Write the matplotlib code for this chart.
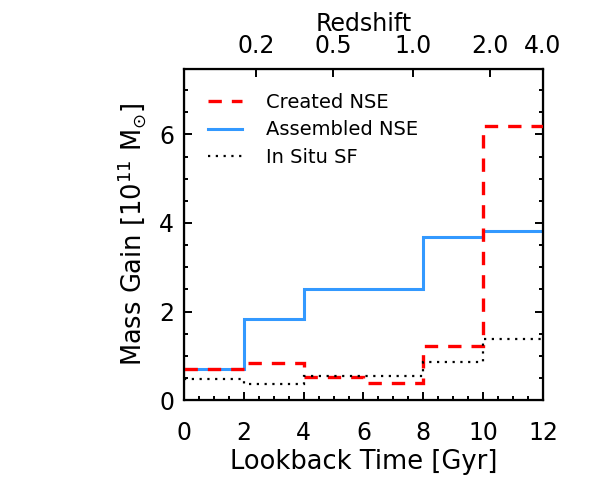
import matplotlib
matplotlib.use('Agg')
import matplotlib.pyplot as plt
from matplotlib.ticker import MultipleLocator

# lookback-time bin edges [Gyr]
edges = [0, 2, 4, 6, 8, 10, 12]

# mass gain per bin [1e11 Msun]
created_nse = [0.69, 0.84, 0.52, 0.39, 1.22, 6.19]
assembled_nse = [0.69, 1.82, 2.50, 2.51, 3.69, 3.82]
insitu_sf = [0.48, 0.37, 0.54, 0.54, 0.85, 1.39]

# redshift labels on the top axis and their lookback times
z_labels = ['0.2', '0.5', '1.0', '2.0', '4.0']
z_lookback = [2.41, 4.98, 7.66, 10.23, 12.0]

plt.rcParams['font.family'] = 'DejaVu Sans'

fig = plt.figure(figsize=(5.98, 4.91), dpi=100)
ax = fig.add_axes([0.3077, 0.1853, 0.6003, 0.6742])

ax.stairs(created_nse, edges, baseline=None, color='red', lw=2.4, ls=(0, (4, 3)),
          label='Created NSE', zorder=3)
ax.stairs(assembled_nse, edges, baseline=None, color='#3399ff', lw=2.2,
          label='Assembled NSE', zorder=2)
ax.stairs(insitu_sf, edges, baseline=None, color='black', lw=1.6, ls=(0, (1, 2.5)),
          label='In Situ SF', zorder=4)

ax.set_xlim(0, 12)
ax.set_ylim(0, 7.48)
ax.xaxis.set_major_locator(MultipleLocator(2))
ax.xaxis.set_minor_locator(MultipleLocator(0.5))
ax.yaxis.set_major_locator(MultipleLocator(2))
ax.yaxis.set_minor_locator(MultipleLocator(0.5))
ax.tick_params(which='both', direction='in', top=False, right=True, width=1.4, labelsize=17)
ax.tick_params(which='major', length=6)
ax.tick_params(axis='x', which='major', pad=15)
ax.tick_params(axis='y', which='major', pad=7)
ax.tick_params(which='minor', length=3)
for s in ax.spines.values():
    s.set_linewidth(1.6)

ax.set_xlabel('Lookback Time [Gyr]', fontsize=18.5, labelpad=3)
ax.set_ylabel(r'Mass Gain [10$^{11}$ M$_{\odot}$]', fontsize=18.5, labelpad=8)

top = ax.twiny()
top.set_xlim(ax.get_xlim())
top.set_xticks(z_lookback)
top.set_xticklabels(z_labels)
top.tick_params(direction='in', length=6, width=1.4, labelsize=17, pad=8)
top.set_xlabel('Redshift', fontsize=17, labelpad=2)

leg = ax.legend(loc='upper left', frameon=False, fontsize=14, handlelength=1.75,
                handletextpad=1.2, labelspacing=0.42, borderaxespad=0.85)

fig.savefig('out.png', dpi=100)
